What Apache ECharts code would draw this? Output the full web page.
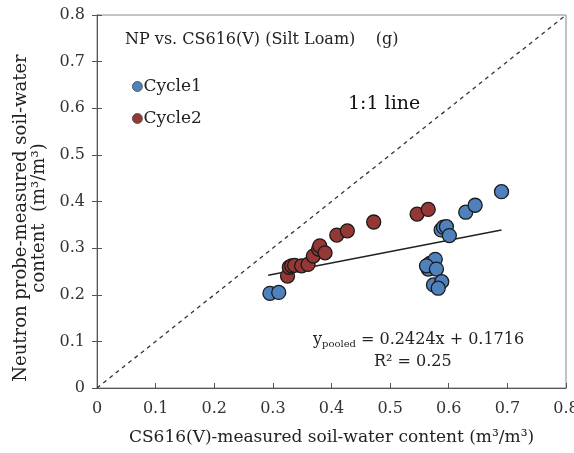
<!DOCTYPE html>
<html>
<head>
<meta charset="utf-8">
<script src="https://cdn.jsdelivr.net/npm/echarts@6/dist/echarts.min.js"></script>
<style>
html,body{margin:0;padding:0;background:#fff;}
#chart{width:574px;height:453px;}
</style>
</head>
<body>
<div id="chart"></div>
<script>
// ---- data ----
var cycle1X = [0.295, 0.310, 0.565, 0.568, 0.577, 0.562, 0.579, 0.574, 0.588, 0.582, 0.587, 0.591, 0.596, 0.601, 0.629, 0.645, 0.690];
var cycle1Y = [0.203, 0.205, 0.255, 0.267, 0.276, 0.262, 0.255, 0.221, 0.228, 0.214, 0.339, 0.345, 0.346, 0.327, 0.377, 0.392, 0.421];
var cycle2X = [0.325, 0.328, 0.332, 0.337, 0.349, 0.360, 0.369, 0.378, 0.380, 0.389, 0.409, 0.427, 0.472, 0.546, 0.565];
var cycle2Y = [0.240, 0.259, 0.262, 0.263, 0.262, 0.265, 0.283, 0.298, 0.305, 0.290, 0.328, 0.337, 0.356, 0.373, 0.383];
var trendX = [0.292, 0.690];
var trendY = [0.242, 0.339];
var oneToOneX = [0, 0.8];
var oneToOneY = [0, 0.8];

function pairs(xs, ys) { return xs.map(function (x, i) { return [x, ys[i]]; }); }

var FONT = '"DejaVu Serif", "Liberation Serif", serif';
var chart = echarts.init(document.getElementById('chart'), null, {renderer: 'canvas'});

var axisCommon = {
  min: 0, max: 0.8, interval: 0.1,
  axisLine: {show: true, lineStyle: {color: '#555', width: 1}},
  axisTick: {show: true, inside: true, length: 5, lineStyle: {color: '#555'}},
  splitLine: {show: false},
  axisLabel: {fontFamily: FONT, fontSize: 16, color: '#333',
    formatter: function (v) { return v === 0 ? '0' : v.toFixed(1); }}
};

var option = {
  backgroundColor: '#fff',
  animation: false,
  grid: {left: 97, right: 8, top: 15, bottom: 65, show: true, borderColor: '#888', borderWidth: 1,
    containLabel: false, outerBoundsMode: 'none'},
  xAxis: [Object.assign({}, axisCommon, {
    type: 'value',
    name: 'CS616(V)-measured soil-water content (m³/m³)',
    nameLocation: 'middle', nameGap: 41,
    nameTextStyle: {fontFamily: FONT, fontSize: 17, color: '#222'},
    axisLabel: Object.assign({}, axisCommon.axisLabel, {margin: 13})
  })],
  yAxis: [Object.assign({}, axisCommon, {
    type: 'value',
    axisLabel: Object.assign({}, axisCommon.axisLabel, {margin: 12})
  }), Object.assign({}, axisCommon, {
    type: 'value', position: 'left',
    axisTick: {show: true, inside: false, length: 5, lineStyle: {color: '#555'}},
    axisLabel: {show: false}
  })],
  legend: {
    orient: 'vertical', left: 127, top: 73, itemGap: 15,
    itemWidth: 10, itemHeight: 10,
    itemStyle: {borderWidth: 0.8, borderColor: '#444'},
    textStyle: {fontFamily: FONT, fontSize: 17, color: '#222', padding: [0, 0, 0, -4]},
    data: ['Cycle1', 'Cycle2']
  },
  series: [
    {
      name: '1:1', type: 'line', data: pairs(oneToOneX, oneToOneY), symbol: 'none',
      lineStyle: {color: '#333', width: 1.3, type: [4, 4]}, silent: true, z: 1
    },
    {
      name: 'trend', type: 'line', data: pairs(trendX, trendY), symbol: 'none',
      lineStyle: {color: '#222', width: 1.5}, silent: true, z: 3
    },
    {
      name: 'Cycle1', type: 'scatter', data: pairs(cycle1X, cycle1Y), symbolSize: 14,
      itemStyle: {color: '#4F81BD', borderColor: '#1a1a1a', borderWidth: 1.3, opacity: 1}, z: 4
    },
    {
      name: 'Cycle2', type: 'scatter', data: pairs(cycle2X, cycle2Y), symbolSize: 14,
      itemStyle: {color: '#953735', borderColor: '#1a1a1a', borderWidth: 1.3, opacity: 1}, z: 4
    }
  ],
  graphic: [
    {type: 'text', x: 30, y: 218, rotation: Math.PI / 2, style: {
      text: 'Neutron probe-measured soil-water\ncontent  (m³/m³)',
      font: '18px ' + FONT, fill: '#222', align: 'center', verticalAlign: 'middle', lineHeight: 18
    }},
    {type: 'text', left: 125, top: 32, style: {text: 'NP vs. CS616(V) (Silt Loam)    (g)', font: '16px ' + FONT, fill: '#222'}},
    {type: 'text', left: 348, top: 95, style: {text: '1:1 line', font: '19px ' + FONT, fill: '#111'}},
    {type: 'text', left: 313, top: 332, style: {
      text: '{y|y}{s|pooled}{y| = 0.2424x + 0.1716}',
      rich: {
        y: {fontFamily: FONT, fontSize: 16, fill: '#222', color: '#222'},
        s: {fontFamily: FONT, fontSize: 10, fill: '#222', color: '#222', padding: [8, 0, 0, 0]}
      }
    }},
    {type: 'text', left: 374, top: 354, style: {text: 'R² = 0.25', font: '16px ' + FONT, fill: '#222'}}
  ]
};
chart.setOption(option);
</script>
</body>
</html>
